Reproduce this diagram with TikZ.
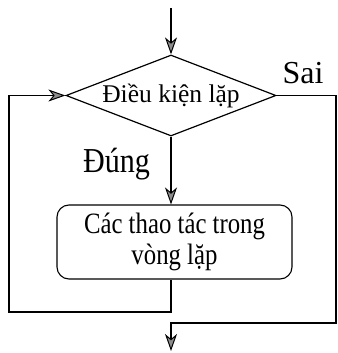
\documentclass[tikz,border=0pt]{standalone}
\usepackage{graphicx}
\usepackage{fontspec}
\setmainfont{Liberation Serif}
\usetikzlibrary{shapes.geometric,arrows.meta}

% narrow setting of a piece of text: \squeeze{factor}{text}
\newcommand\squeeze[2]{\scalebox{#1}[1]{#2}}

\tikzset{
  link/.style={line width=1.8pt},
  flow/.style={link, -{Stealth[length=17pt,width=12pt,inset=5pt,fill=black!45,line width=1pt]}},
  decision/.style={diamond, draw, line width=1.2pt, aspect=2.6,
    minimum width=210pt, minimum height=81pt, inner sep=0pt,
    font=\fontsize{25.5}{28}\selectfont},
  process/.style={draw, line width=1.1pt, rounded corners=12pt,
    minimum width=235pt, minimum height=74pt, align=center,
    font=\fontsize{29.5}{31}\selectfont},
  tag/.style={anchor=base, inner sep=0pt}
}

\begin{document}
\begin{tikzpicture}[x=1pt,y=-1pt]
  \useasboundingbox (0,0) rectangle (337,353);

  % boxes
  \node[decision] (cond) at (171,95.5) {Điều kiện lặp};
  \node[process] (body) at (174.5,242) {\squeeze{0.84}{Các thao tác trong}\\\squeeze{0.84}{vòng lặp}};

  % branch labels
  \node[tag, font=\fontsize{35}{37}\selectfont] (yes) at (116.5,172) {\squeeze{0.86}{Đúng}};
  \node[tag, font=\fontsize{32}{34}\selectfont] (no) at (303,83.5) {Sai};

  % free ends and corners of the loop
  \coordinate (start) at (171,8);
  \coordinate (finish) at (171,351);
  \coordinate (lb) at (9,312);
  \coordinate (rb) at (336,323);

  % connectors
  \draw[flow] (start) -- (cond.north);
  \draw[flow] (cond.south) -- (cond.south |- body.north);
  \draw[flow] (cond.south |- body.south) |- (lb) |- (cond.west);
  \draw[flow] (cond.east) -| (rb) -| (finish);
\end{tikzpicture}
\end{document}
